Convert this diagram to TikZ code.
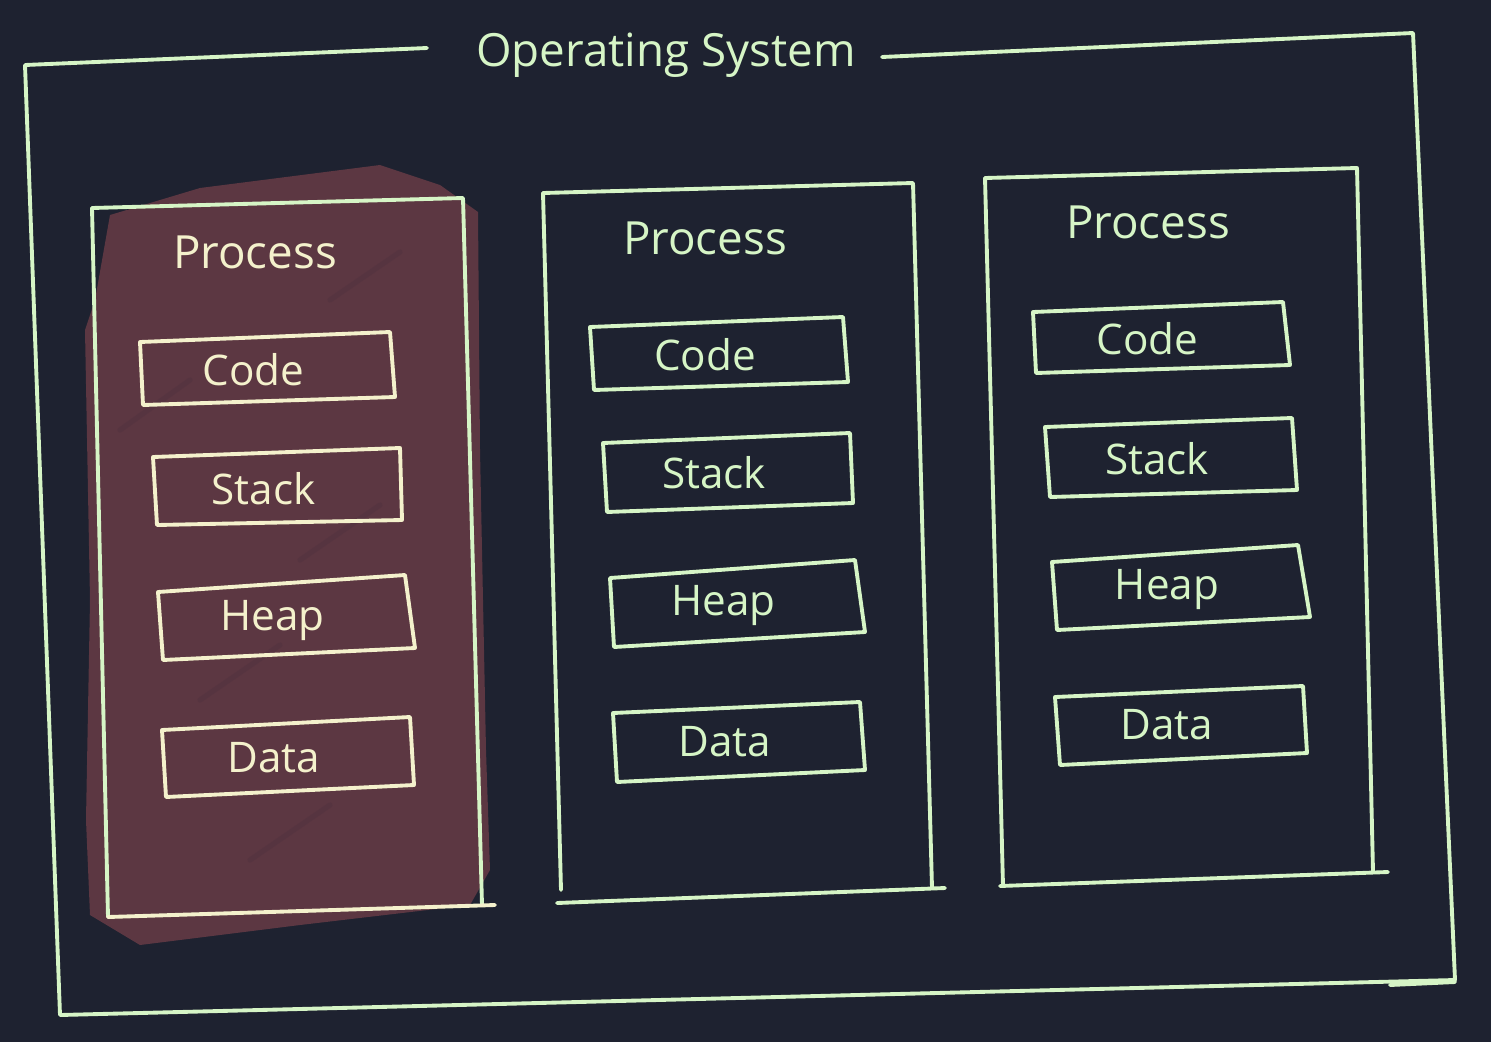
\documentclass[tikz,border=0pt]{standalone}
\usepackage{fontspec}
\setmainfont{Open Sans}
\usepackage{tikz}
\usetikzlibrary{calc}
\definecolor{BgNavy}{HTML}{1E2230}
\definecolor{LineGreen}{HTML}{D6F5C6}
\definecolor{Cream}{HTML}{F4F1CC}
\definecolor{HatchRed}{HTML}{5C3742}
\definecolor{HatchDark}{HTML}{533340}
\tikzset{
  sketch/.style={line width=1.1pt, line cap=round, line join=round},
  seglabel/.style={font=\fontsize{12}{14}\selectfont},
  proclabel/.style={font=\fontsize{13}{16}\selectfont},
}
\newcommand{\segbox}[6]{% tl, tr, br, bl, name, label
  \draw[sketch] #1 -- #2 -- #3 -- #4 -- cycle;
  \node[seglabel] (#5) at ($#1!0.5!#3 + (-14,0)$) {#6};
}

\begin{document}
\begin{tikzpicture}[x=0.01cm, y=-0.01cm, color=LineGreen]

% Background
\fill[BgNavy] (0,0) rectangle (1491,1042);
\useasboundingbox (0,0) rectangle (1491,1042);

% Scribbled fill behind the first process
\fill[HatchRed] (95,300) -- (110,215) -- (200,188) -- (380,165) -- (440,185)
  -- (478,212) -- (480,450) -- (486,750) -- (490,870) -- (470,905)
  -- (300,925) -- (140,945) -- (90,915) -- (86,820) -- (90,600) -- (85,330) -- cycle;
\begin{scope}[HatchDark, line width=1.5pt, opacity=0.6, line cap=round]
  \draw (120,430) -- (190,380);
  \draw (300,560) -- (380,505);
  \draw (200,700) -- (280,645);
  \draw (250,860) -- (330,805);
  \draw (330,300) -- (400,252);
\end{scope}

% Operating system frame
\draw[sketch] (427,48) -- (25,65) -- (60,1015) -- (1455,980) -- (1413,33) -- (882,57);
\draw[sketch] (1390,985) -- (1455,982);
\node[font=\fontsize{13}{16}\selectfont] (os) at (666,55) {Operating System};

% Process 1
\begin{scope}[color=Cream]
  \draw[sketch, LineGreen] (92,208) -- (463,198) -- (482,905);
  \draw[sketch, LineGreen] (92,208) -- (108,917);
  \draw[sketch] (108,917) -- (495,905);
  \node[proclabel] (proc1) at (255,252) {Process};
  \segbox{(140,342)}{(390,332)}{(395,397)}{(143,405)}{code1}{Code}
  \segbox{(153,457)}{(400,448)}{(402,520)}{(157,525)}{stack1}{Stack}
  \segbox{(158,592)}{(405,575)}{(415,648)}{(163,660)}{heap1}{Heap}
  \segbox{(162,730)}{(410,717)}{(414,785)}{(166,797)}{data1}{Data}
\end{scope}

% Process 2
\draw[sketch] (543,193) -- (913,183) -- (932,888);
\draw[sketch] (543,193) -- (561,890);
\draw[sketch] (557,903) -- (945,888);
\node[proclabel] (proc2) at (705,238) {Process};
\segbox{(590,327)}{(843,317)}{(848,382)}{(594,390)}{code2}{Code}
\segbox{(603,443)}{(850,433)}{(853,503)}{(607,512)}{stack2}{Stack}
\segbox{(610,578)}{(855,560)}{(865,632)}{(614,647)}{heap2}{Heap}
\segbox{(613,713)}{(860,702)}{(865,770)}{(617,782)}{data2}{Data}

% Process 3
\draw[sketch] (985,178) -- (1357,168) -- (1373,872);
\draw[sketch] (985,178) -- (1003,886);
\draw[sketch] (1000,886) -- (1388,872);
\node[proclabel] (proc3) at (1148,222) {Process};
\segbox{(1033,312)}{(1283,302)}{(1290,365)}{(1036,373)}{code3}{Code}
\segbox{(1045,427)}{(1292,418)}{(1297,490)}{(1050,497)}{stack3}{Stack}
\segbox{(1052,562)}{(1298,545)}{(1310,617)}{(1057,630)}{heap3}{Heap}
\segbox{(1055,697)}{(1303,686)}{(1307,753)}{(1060,765)}{data3}{Data}

\end{tikzpicture}
\end{document}
